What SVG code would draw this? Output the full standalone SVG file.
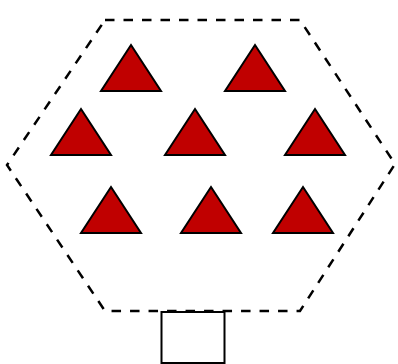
<svg xmlns="http://www.w3.org/2000/svg" width="398" height="364" viewBox="0 0 398 364">
<style>
.tri{fill:#c00000;stroke:#000;stroke-width:2;stroke-linejoin:miter}
.hex{fill:none;stroke:#000;stroke-width:2.5;stroke-dasharray:9.5 9}
.box{fill:#fff;stroke:#000;stroke-width:2}
</style>
<rect width="398" height="364" fill="#fff"/>
<g id="hexagon"><polygon class="hex" points="105,20 300,20 395,164 300,311 105,311 7,165"/></g>
<g id="t1"><polygon class="tri" points="131,45 161,91 101,91"/></g>
<g id="t2"><polygon class="tri" points="255,45 285,91 225,91"/></g>
<g id="t3"><polygon class="tri" points="81,109 111,155 51,155"/></g>
<g id="t4"><polygon class="tri" points="195,109 225,155 165,155"/></g>
<g id="t5"><polygon class="tri" points="315,109 345,155 285,155"/></g>
<g id="t6"><polygon class="tri" points="111,187 141,233 81,233"/></g>
<g id="t7"><polygon class="tri" points="211,187 241,233 181,233"/></g>
<g id="t8"><polygon class="tri" points="303,187 333,233 273,233"/></g>
<g id="box"><rect class="box" x="161.5" y="312" width="63" height="51"/></g>
<g id="connectors"></g>
</svg>
